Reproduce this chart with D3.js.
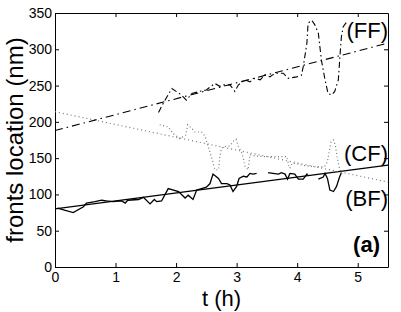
<!DOCTYPE html>
<html>
<head>
<meta charset="utf-8">
<script src="https://cdn.jsdelivr.net/npm/d3@7"></script>
<style>
  body { margin: 0; background: #fff; }
  svg { display: block; font-family: 'Liberation Sans', Arial, sans-serif; }
</style>
</head>
<body>
<svg id="chart"></svg>
<script>

// back front (solid), null = gap in the trace
const bfT = [0.04, 0.30, 0.47, 0.52, 0.66, 0.77, 0.85, 0.96, 1.10, 1.16, 1.20, 1.38, 1.46, 1.57, 1.64, 1.68, 1.76, 1.87, 2.04, 2.15, 2.20, 2.28, 2.34, 2.42, 2.50, 2.56, 2.61, 2.70, 2.75, 2.84, 2.89, 2.94, 3.00, 3.04, 3.11, 3.17, 3.22, 3.27, 3.33, 3.42, 3.52, 3.60, 3.69, 3.74, 3.80, 3.84, 3.88, 3.96, 4.02, 4.10, 4.16, 4.18, 4.26, 4.35, 4.43, 4.46, 4.50, 4.54, 4.60, 4.65, 4.70, 4.73]
const bfV = [81, 75, 83, 88, 90, 92, 91, 90, 91, 88, 92, 93, 96, 87, 93, 90, 91, 108, 104, 95, 99, 93, 106, 108, 110, 115, 128, 122, 115, 115, 113, 104, 111, 122, 125, 124, 129, 128, 129, null, 130, 129, 128, 130, 128, 121, 129, 128, 121, 121, 128, 128, null, 121, 124, 129, 122, 106, 104, 111, 124, 130]

// center front (dotted)
const cfT = [1.73, 1.87, 1.95, 2.06, 2.16, 2.19, 2.26, 2.31, 2.42, 2.48, 2.53, 2.59, 2.64, 2.70, 2.72, 2.75, 2.81, 2.89, 2.94, 2.99, 3.03, 3.08, 3.11, 3.14, 3.19, 3.22, 3.30, 3.50, 3.70, 3.83, 3.86, 3.88, 3.92, 4.00, 4.10, 4.30, 4.45, 4.50, 4.53, 4.56, 4.60, 4.63, 4.66, 4.70, 4.75]
const cfV = [196, 193, 184, 177, 182, 196, 191, 186, 186, 180, 166, 150, 134, 134, 150, 164, 166, 167, 173, 176, 166, 158, 150, 138, 134, 155, 153, 152, 152, 152, 140, 136, 143, 142, 140, 138, 138, 145, 160, 172, 175, 168, 152, 135, 126]

// front front (dash-dot)
const ffT = [1.71, 1.79, 1.93, 2.09, 2.17, 2.26, 2.39, 2.50, 2.64, 2.72, 2.78, 2.89, 2.97, 3.03, 3.14, 3.22, 3.30, 3.39, 3.47, 3.55, 3.63, 3.77, 3.85, 3.99, 4.07, 4.10, 4.16, 4.18, 4.24, 4.29, 4.35, 4.40, 4.46, 4.51, 4.57, 4.62, 4.68, 4.71, 4.73, 4.76, 4.82]
const ffV = [213, 226, 246, 237, 230, 239, 242, 244, 253, 249, 251, 251, 242, 251, 258, 255, 260, 258, 265, 262, 267, 267, 260, 262, 264, 276, 308, 336, 340, 334, 322, 285, 258, 239, 237, 242, 258, 295, 317, 331, 338]

// linear fits, values at fitT
const fitT = [0, 5.5]
const bfFit = [80, 140.5]
const cfFit = [214, 117]
const ffFit = [188, 308.6]

const labels = ['(FF)', '(CF)', '(BF)']
const labelV = [315, 146, 84]

const xTicks = [0, 1, 2, 3, 4, 5]
const yTicks = [0, 50, 100, 150, 200, 250, 300, 350]

const width = 401, height = 312
const margin = {top: 13, right: 13, bottom: 45, left: 55}

const svg = d3.select('#chart')
	.attr('width', width)
	.attr('height', height)

const x = d3.scaleLinear()
	.domain([0, 5.5])
	.range([margin.left, width - margin.right])

const y = d3.scaleLinear()
	.domain([0, 350])
	.range([height - margin.bottom, margin.top])

const font = 'Liberation Sans, Arial, sans-serif'

function styleAxis(g){
	g.selectAll('path').attr('stroke', '#000').attr('stroke-width', 1)
	g.selectAll('line').attr('stroke', '#000')
	g.selectAll('text').attr('fill', '#000').style('font-size', '14px').style('font-family', font)
}

svg.append('g')
	.attr('transform', 'translate(0,' + y(0) + ')')
	.call(d3.axisBottom(x).tickValues(xTicks).tickFormat(d3.format('d')).tickSize(-4).tickSizeOuter(0).tickPadding(5))
	.call(styleAxis)

svg.append('g')
	.attr('transform', 'translate(0,' + y(350) + ')')
	.call(d3.axisTop(x).tickValues(xTicks).tickSize(-4).tickSizeOuter(0).tickFormat(''))
	.call(styleAxis)

svg.append('g')
	.attr('transform', 'translate(' + x(0) + ',0)')
	.call(d3.axisLeft(y).tickValues(yTicks).tickSize(-4).tickSizeOuter(0).tickPadding(3))
	.call(styleAxis)

svg.append('g')
	.attr('transform', 'translate(' + x(5.5) + ',0)')
	.call(d3.axisRight(y).tickValues(yTicks).tickSize(-4).tickSizeOuter(0).tickFormat(''))
	.call(styleAxis)

const line = d3.line()
	.defined(d => d[1] !== null)
	.x(d => x(d[0]))
	.y(d => y(d[1]))

const zip = (a, b) => a.map((t, i) => [t, b[i]])

const plot = svg.append('g').attr('fill', 'none')

// fits
plot.append('path').attr('d', line(zip(fitT, bfFit)))
	.attr('stroke', '#000').attr('stroke-width', 1.3)
plot.append('path').attr('d', line(zip(fitT, cfFit)))
	.attr('stroke', '#777').attr('stroke-width', 1.2).attr('stroke-dasharray', '1,3')
plot.append('path').attr('d', line(zip(fitT, ffFit)))
	.attr('stroke', '#000').attr('stroke-width', 1.1).attr('stroke-dasharray', '8,4,1.5,4')

// measured traces
plot.append('path').attr('d', line(zip(bfT, bfV)))
	.attr('stroke', '#000').attr('stroke-width', 1.3)
plot.append('path').attr('d', line(zip(cfT, cfV)))
	.attr('stroke', '#777').attr('stroke-width', 1.2).attr('stroke-dasharray', '1,2.5')
plot.append('path').attr('d', line(zip(ffT, ffV)))
	.attr('stroke', '#000').attr('stroke-width', 1.1).attr('stroke-dasharray', '6,3,1.5,3')

// series labels
svg.append('g')
	.selectAll('text')
	.data(labels)
	.join('text')
		.attr('x', x(5.5))
		.attr('y', (d, i) => y(labelV[i]))
		.attr('text-anchor', 'end')
		.style('font-size', '22px')
		.style('font-family', font)
		.text(d => d)

svg.append('text')
	.attr('x', x(5.5) - 8)
	.attr('y', y(20))
	.attr('text-anchor', 'end')
	.style('font-size', '22px')
	.style('font-weight', 'bold')
	.style('font-family', font)
	.text('(a)')

// axis titles
svg.append('text')
	.attr('x', (x(0) + x(5.5)) / 2)
	.attr('y', 306)
	.attr('text-anchor', 'middle')
	.style('font-size', '22px')
	.style('font-family', font)
	.text('t (h)')

svg.append('text')
	.attr('transform', 'translate(23,' + (y(0) + y(350)) / 2 + ') rotate(-90)')
	.attr('text-anchor', 'middle')
	.style('font-size', '24px')
	.style('font-family', font)
	.text('fronts location (nm)')

</script>
</body>
</html>
